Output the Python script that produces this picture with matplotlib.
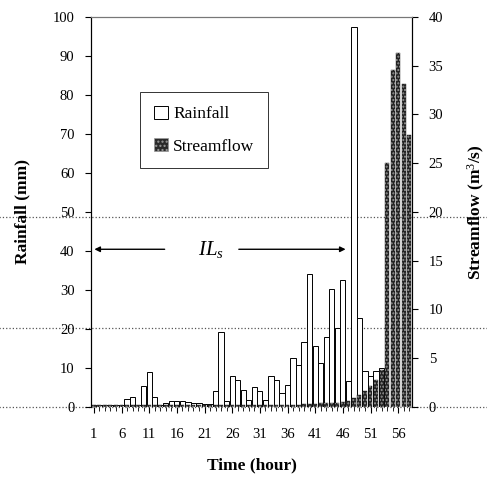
import matplotlib
matplotlib.use('Agg')
from matplotlib import pyplot as plt
from matplotlib.patches import Patch

plt.rcParams['font.family'] = ['Liberation Serif', 'DejaVu Serif']
plt.rcParams['mathtext.fontset'] = 'custom'
plt.rcParams['mathtext.rm'] = 'Liberation Serif'
plt.rcParams['mathtext.it'] = 'Liberation Serif:italic'

hours = list(range(1, 59))
tick_hours = [1, 6, 11, 16, 21, 26, 31, 36, 41, 46, 51, 56]

rainfall = [0.5, 0.5, 0.4, 0.4, 0.5, 0.5, 2.0, 2.5, 0.5, 5.3,
            9.0, 2.6, 0.5, 1.0, 1.4, 1.4, 1.4, 1.3, 0.9, 0.9,
            0.8, 0.8, 4.0, 19.2, 1.5, 7.8, 7.0, 4.2, 1.8, 5.2,
            4.1, 1.8, 7.8, 7.0, 3.6, 5.7, 12.5, 10.8, 16.7, 34.0,
            15.5, 11.2, 18.0, 30.2, 20.2, 32.4, 6.5, 97.5, 22.7, 9.2,
            8.0, 9.3, 10.0, 0.0, 0.0, 0.0, 0.0, 0.0]

streamflow = [0.15, 0.15, 0.15, 0.15, 0.15, 0.15, 0.15, 0.15, 0.15, 0.15,
              0.15, 0.15, 0.15, 0.15, 0.15, 0.15, 0.15, 0.15, 0.15, 0.15,
              0.15, 0.15, 0.15, 0.15, 0.15, 0.15, 0.15, 0.15, 0.15, 0.15,
              0.15, 0.15, 0.15, 0.15, 0.15, 0.15, 0.2, 0.2, 0.3, 0.3,
              0.3, 0.35, 0.35, 0.4, 0.4, 0.45, 0.55, 0.9, 1.2, 1.6,
              2.1, 2.8, 3.8, 25.0, 34.5, 36.3, 33.1, 27.9]

# dotted lines that run across the whole page (mm)
page_lines = [48.6, 20.2, 0.0]

# initial loss arrows (hours)
ils_left = (0.6, 14.3)
ils_right = (26.7, 47.0)
ils_text_x = 22.1
ils_y = 40.4

fig = plt.figure(figsize=(4.87, 4.82), dpi=100)
ax = fig.add_axes([0.187, 0.156, 0.659, 0.809])
ax2 = ax.twinx()

ax.bar(hours, rainfall, width=0.95, color='white', edgecolor='black', linewidth=0.7, zorder=2)
ax2.bar(hours, streamflow, width=0.72, color='#222222', edgecolor='#222222', linewidth=0.3)
ax2.bar(hours, streamflow, width=0.72, color='none', edgecolor='#9a9a9a', hatch='.....', linewidth=0)

ax.set_xlim(0.5, 58.5)
ax.set_ylim(0, 100)
ax2.set_ylim(0, 40)

ax.set_xticks(tick_hours)
ax.set_xticks(hours, minor=True)
ax.set_yticks(range(0, 101, 10))
ax2.set_yticks(range(0, 41, 5))

ax.tick_params(axis='x', which='major', length=4, pad=11, labelsize=10.5)
ax.tick_params(axis='x', which='minor', length=3)
ax.tick_params(axis='y', length=4, pad=8, labelsize=10.5)
ax2.tick_params(axis='y', length=4, pad=8, labelsize=10.5)

for a in (ax, ax2):
  a.spines['top'].set_color('#777777')
  a.spines['top'].set_linewidth(0.8)
  a.spines['left'].set_linewidth(0.8)
  a.spines['right'].set_linewidth(0.8)
  a.spines['bottom'].set_visible(False)

for level in page_lines:
  ax.plot([-0.29, 1.24], [level, level], transform=ax.get_yaxis_transform(),
          color='#555555', linestyle=':', linewidth=0.9, clip_on=False, zorder=1)

ax.set_ylabel('Rainfall (mm)', fontsize=12.5, fontweight='bold', labelpad=16)
ax2.set_ylabel('Streamflow (m$^3$/s)', fontsize=12.5, fontweight='bold', rotation=90, labelpad=16)
ax.set_xlabel('Time (hour)', fontsize=12.5, fontweight='bold', labelpad=12)

ax.annotate('', xy=(ils_left[0], ils_y), xytext=(ils_left[1], ils_y),
            arrowprops=dict(arrowstyle='-|>', color='black', lw=1.0, mutation_scale=8))
ax.annotate('', xy=(ils_right[1], ils_y), xytext=(ils_right[0], ils_y),
            arrowprops=dict(arrowstyle='-|>', color='black', lw=1.0, mutation_scale=8))
ax.text(ils_text_x, ils_y, '$IL_s$', ha='center', va='center', fontsize=15)

handles = [Patch(facecolor='white', edgecolor='black', linewidth=0.7, label='Rainfall'),
           Patch(facecolor='#2a2a2a', edgecolor='#9a9a9a', hatch='....', linewidth=0.5, label='Streamflow')]
leg = ax2.legend(handles=handles, loc='upper left', bbox_to_anchor=(0.153, 0.808),
                 fontsize=12.5, frameon=True, fancybox=False, edgecolor='black',
                 handlelength=0.8, handleheight=0.8, handletextpad=0.3,
                 borderpad=0.8, labelspacing=0.9, borderaxespad=0)
leg.get_frame().set_linewidth(0.7)

plt.savefig('out.png', dpi=100)
plt.close()
